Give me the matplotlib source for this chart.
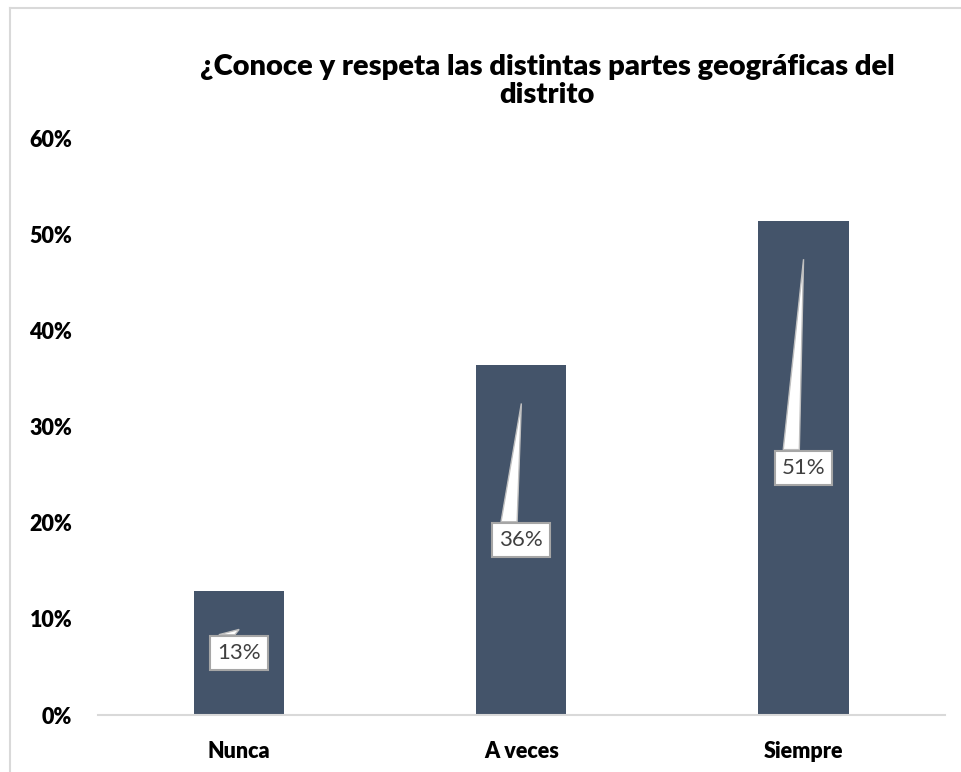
import matplotlib.pyplot as plt
from matplotlib.patches import Polygon
from matplotlib.lines import Line2D
from matplotlib.ticker import PercentFormatter

plt.rcParams['font.family'] = ['Lato', 'DejaVu Sans']

categories = ['Nunca', 'A veces', 'Siempre']
values = [0.129, 0.364, 0.514]
labels = ['13%', '36%', '51%']
title = '¿Conoce y respeta las distintas partes geográficas del\ndistrito'

bar_color = '#44546A'

fig = plt.figure(figsize=(9.61, 7.72), dpi=100)
ax = fig.add_axes([0.102, 0.0738, 0.881, 0.7474])

x = list(range(len(categories)))
ax.bar(x, values, width=0.32, color=bar_color, zorder=2)

ax.set_xlim(-0.5, len(categories) - 0.5)
ax.set_ylim(0, 0.6)
ax.set_yticks([0, 0.1, 0.2, 0.3, 0.4, 0.5, 0.6])
ax.yaxis.set_major_formatter(PercentFormatter(1.0, decimals=0))
ax.set_xticks(x)
ax.set_xticklabels(categories)
for lab in ax.get_xticklabels() + ax.get_yticklabels():
    lab.set_fontweight('heavy')
    lab.set_fontsize(15.5)
    lab.set_color('#000000')
ax.tick_params(axis='both', length=0)
ax.tick_params(axis='y', pad=18.5)
ax.tick_params(axis='x', pad=19)

for s in ['top', 'right', 'left']:
    ax.spines[s].set_visible(False)
ax.spines['bottom'].set_color('#D9D9D9')
ax.spines['bottom'].set_linewidth(1.5)

# callouts: label box at mid bar, wedge pointing up to near the top
for xi, v, lab in zip(x, values, labels):
    yc = v / 2
    box_top = yc + 0.019
    tip = v - 0.04
    wedge = Polygon([(xi - 0.072, box_top), (xi - 0.015, box_top), (xi, tip)],
                    closed=True, facecolor='white', edgecolor='#BFBFBF',
                    linewidth=1, zorder=3)
    ax.add_patch(wedge)
    ax.text(xi, yc, lab, ha='center', va='center', fontsize=16, color='#404040',
            zorder=4,
            bbox=dict(boxstyle='square,pad=0.32', facecolor='white',
                      edgecolor='#A6A6A6', linewidth=1.5))

fig.text(547 / 961, 1 - 81 / 772, title, ha='center', va='center',
         fontsize=21, fontweight='heavy', linespacing=1.12)

# outer chart border (top and left visible)
fig.add_artist(Line2D([10 / 961, 1.0], [1 - 8 / 772, 1 - 8 / 772],
                      transform=fig.transFigure, color='#D9D9D9', linewidth=1.5))
fig.add_artist(Line2D([10 / 961, 10 / 961], [0.0, 1 - 8 / 772],
                      transform=fig.transFigure, color='#D9D9D9', linewidth=1.5))

fig.savefig('out.png', dpi=100)
